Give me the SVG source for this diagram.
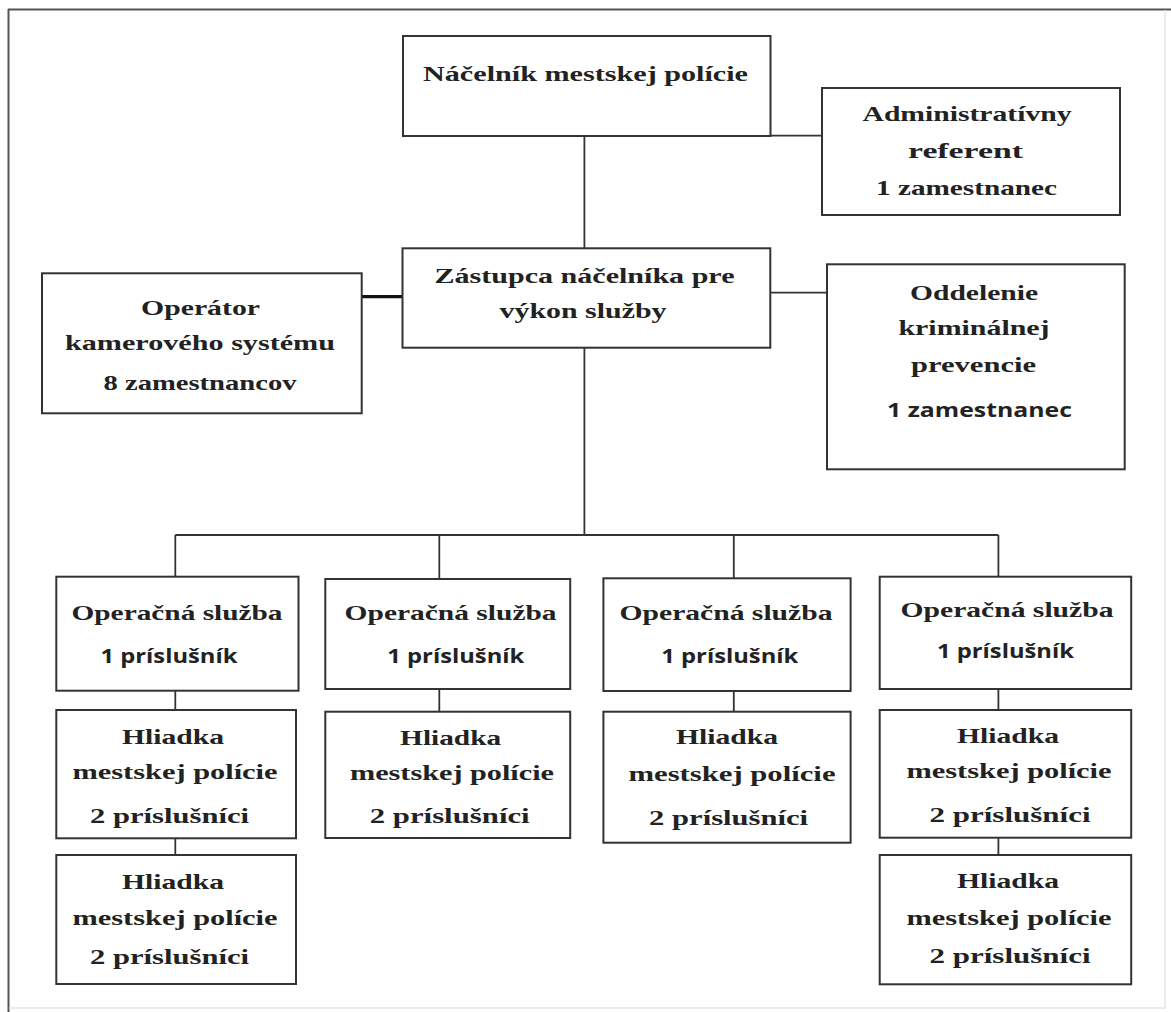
<svg xmlns="http://www.w3.org/2000/svg" width="1171" height="1012" viewBox="0 0 1171 1012">
<style>
.box{fill:#fff;stroke:#333;stroke-width:2}
.ln{stroke:#333;stroke-width:1.8;fill:none}
.t{font-family:"Liberation Serif","Times New Roman",serif;font-weight:bold;font-size:22px;fill:#222;text-anchor:middle}
.s{font-family:"Open Sans","Noto Sans",sans-serif;font-weight:bold;font-size:20px;fill:#222;text-anchor:middle}
</style>
<rect x="0" y="0" width="1171" height="1012" fill="#fff"/>
<g id="frame">
<line x1="8" y1="9.5" x2="1171" y2="9.5" stroke="#555" stroke-width="2"/>
<line x1="8.5" y1="9" x2="8.5" y2="1012" stroke="#555" stroke-width="2"/>
<line x1="1165" y1="10" x2="1165" y2="1009" stroke="#e4e4e4" stroke-width="1.5"/>
<line x1="9" y1="1008" x2="1165" y2="1008" stroke="#e4e4e4" stroke-width="1.5"/>
</g>
<g id="connectors">
<line class="ln" x1="770" y1="135.7" x2="822" y2="135.7"/>
<line class="ln" x1="584.4" y1="135.7" x2="584.4" y2="248.3"/>
<line x1="361.7" y1="296.7" x2="402.5" y2="296.7" stroke="#111" stroke-width="3.2"/>
<line class="ln" x1="770.3" y1="292.7" x2="827" y2="292.7"/>
<line class="ln" x1="584.4" y1="347.7" x2="584.4" y2="535"/>
<line class="ln" x1="175.3" y1="535" x2="998.4" y2="535"/>
<line class="ln" x1="175.3" y1="535" x2="175.3" y2="576.7"/>
<line class="ln" x1="439.3" y1="535" x2="439.3" y2="579"/>
<line class="ln" x1="733.8" y1="535" x2="733.8" y2="578.3"/>
<line class="ln" x1="998.4" y1="535" x2="998.4" y2="576.7"/>
<line class="ln" x1="175.3" y1="690.7" x2="175.3" y2="710"/>
<line class="ln" x1="175.3" y1="838.3" x2="175.3" y2="855"/>
<line class="ln" x1="439.3" y1="689" x2="439.3" y2="711.7"/>
<line class="ln" x1="733.8" y1="691" x2="733.8" y2="711.7"/>
<line class="ln" x1="998.4" y1="689" x2="998.4" y2="710"/>
<line class="ln" x1="998.4" y1="837.7" x2="998.4" y2="855"/>
</g>
<g id="nacelnik">
<rect class="box" x="403" y="36" width="367.5" height="100"/>
<text class="t" x="585.5" y="81" textLength="325" lengthAdjust="spacingAndGlyphs">Náčelník mestskej polície</text>
</g>
<g id="admin">
<rect class="box" x="822" y="88" width="298" height="127"/>
<text class="t" x="967" y="121" textLength="209" lengthAdjust="spacingAndGlyphs">Administratívny</text>
<text class="t" x="965.5" y="158" textLength="115" lengthAdjust="spacingAndGlyphs">referent</text>
<text class="t" x="966.5" y="195" textLength="181" lengthAdjust="spacingAndGlyphs">1 zamestnanec</text>
</g>
<g id="operator">
<rect class="box" x="42" y="273.3" width="319.7" height="140"/>
<text class="t" x="200.5" y="315" textLength="119" lengthAdjust="spacingAndGlyphs">Operátor</text>
<text class="t" x="200" y="350" textLength="270" lengthAdjust="spacingAndGlyphs">kamerového systému</text>
<text class="t" x="200" y="390" textLength="193" lengthAdjust="spacingAndGlyphs">8 zamestnancov</text>
</g>
<g id="zastupca">
<rect class="box" x="402.5" y="248.3" width="367.8" height="99.4"/>
<text class="t" x="584.5" y="283" textLength="300" lengthAdjust="spacingAndGlyphs">Zástupca náčelníka pre</text>
<text class="t" x="583" y="318" textLength="167" lengthAdjust="spacingAndGlyphs">výkon služby</text>
</g>
<g id="oddelenie">
<rect class="box" x="827" y="264.3" width="297.7" height="205"/>
<text class="t" x="974" y="300" textLength="128" lengthAdjust="spacingAndGlyphs">Oddelenie</text>
<text class="t" x="974" y="335" textLength="151" lengthAdjust="spacingAndGlyphs">kriminálnej</text>
<text class="t" x="973.5" y="372" textLength="125" lengthAdjust="spacingAndGlyphs">prevencie</text>
<text class="s" x="979.5" y="417" textLength="185" lengthAdjust="spacingAndGlyphs">1 zamestnanec</text>
</g>
<g id="op1">
<rect class="box" x="56.3" y="576.7" width="242.2" height="114"/>
<text class="t" x="177" y="620" textLength="211" lengthAdjust="spacingAndGlyphs">Operačná služba</text>
<text class="s" x="169" y="663" textLength="137" lengthAdjust="spacingAndGlyphs">1 príslušník</text>
</g>
<g id="op2">
<rect class="box" x="325.3" y="579" width="244.9" height="110"/>
<text class="t" x="450.6" y="620" textLength="212" lengthAdjust="spacingAndGlyphs">Operačná služba</text>
<text class="s" x="455.8" y="663" textLength="137" lengthAdjust="spacingAndGlyphs">1 príslušník</text>
</g>
<g id="op3">
<rect class="box" x="603.4" y="578.3" width="247.2" height="112.7"/>
<text class="t" x="726" y="620" textLength="213" lengthAdjust="spacingAndGlyphs">Operačná služba</text>
<text class="s" x="729.8" y="663" textLength="137" lengthAdjust="spacingAndGlyphs">1 príslušník</text>
</g>
<g id="op4">
<rect class="box" x="879.7" y="576.7" width="251.5" height="112.3"/>
<text class="t" x="1007" y="617" textLength="213" lengthAdjust="spacingAndGlyphs">Operačná služba</text>
<text class="s" x="1005.5" y="658" textLength="137" lengthAdjust="spacingAndGlyphs">1 príslušník</text>
</g>
<g id="h1a">
<rect class="box" x="56.3" y="710" width="239.7" height="128.3"/>
<text class="t" x="173" y="744" textLength="102" lengthAdjust="spacingAndGlyphs">Hliadka</text>
<text class="t" x="175" y="779" textLength="205" lengthAdjust="spacingAndGlyphs">mestskej polície</text>
<text class="t" x="169.5" y="823" textLength="159" lengthAdjust="spacingAndGlyphs">2 príslušníci</text>
</g>
<g id="h1b">
<rect class="box" x="56.3" y="855" width="239.7" height="129"/>
<text class="t" x="173" y="889" textLength="102" lengthAdjust="spacingAndGlyphs">Hliadka</text>
<text class="t" x="175" y="925" textLength="205" lengthAdjust="spacingAndGlyphs">mestskej polície</text>
<text class="t" x="169.5" y="964" textLength="159" lengthAdjust="spacingAndGlyphs">2 príslušníci</text>
</g>
<g id="h2">
<rect class="box" x="325.3" y="711.7" width="244.9" height="126.3"/>
<text class="t" x="450.6" y="745" textLength="101" lengthAdjust="spacingAndGlyphs">Hliadka</text>
<text class="t" x="452" y="780" textLength="204" lengthAdjust="spacingAndGlyphs">mestskej polície</text>
<text class="t" x="449.7" y="823" textLength="160" lengthAdjust="spacingAndGlyphs">2 príslušníci</text>
</g>
<g id="h3">
<rect class="box" x="603.4" y="711.7" width="247.2" height="131"/>
<text class="t" x="727" y="744" textLength="102" lengthAdjust="spacingAndGlyphs">Hliadka</text>
<text class="t" x="732" y="781" textLength="207" lengthAdjust="spacingAndGlyphs">mestskej polície</text>
<text class="t" x="728.6" y="825" textLength="159" lengthAdjust="spacingAndGlyphs">2 príslušníci</text>
</g>
<g id="h4a">
<rect class="box" x="879.7" y="710" width="251.5" height="127.7"/>
<text class="t" x="1008" y="743" textLength="102" lengthAdjust="spacingAndGlyphs">Hliadka</text>
<text class="t" x="1009" y="778" textLength="205" lengthAdjust="spacingAndGlyphs">mestskej polície</text>
<text class="t" x="1010" y="822" textLength="161" lengthAdjust="spacingAndGlyphs">2 príslušníci</text>
</g>
<g id="h4b">
<rect class="box" x="879.7" y="855" width="251.5" height="129.3"/>
<text class="t" x="1008" y="888" textLength="102" lengthAdjust="spacingAndGlyphs">Hliadka</text>
<text class="t" x="1009" y="925" textLength="205" lengthAdjust="spacingAndGlyphs">mestskej polície</text>
<text class="t" x="1010" y="963" textLength="161" lengthAdjust="spacingAndGlyphs">2 príslušníci</text>
</g>
</svg>
